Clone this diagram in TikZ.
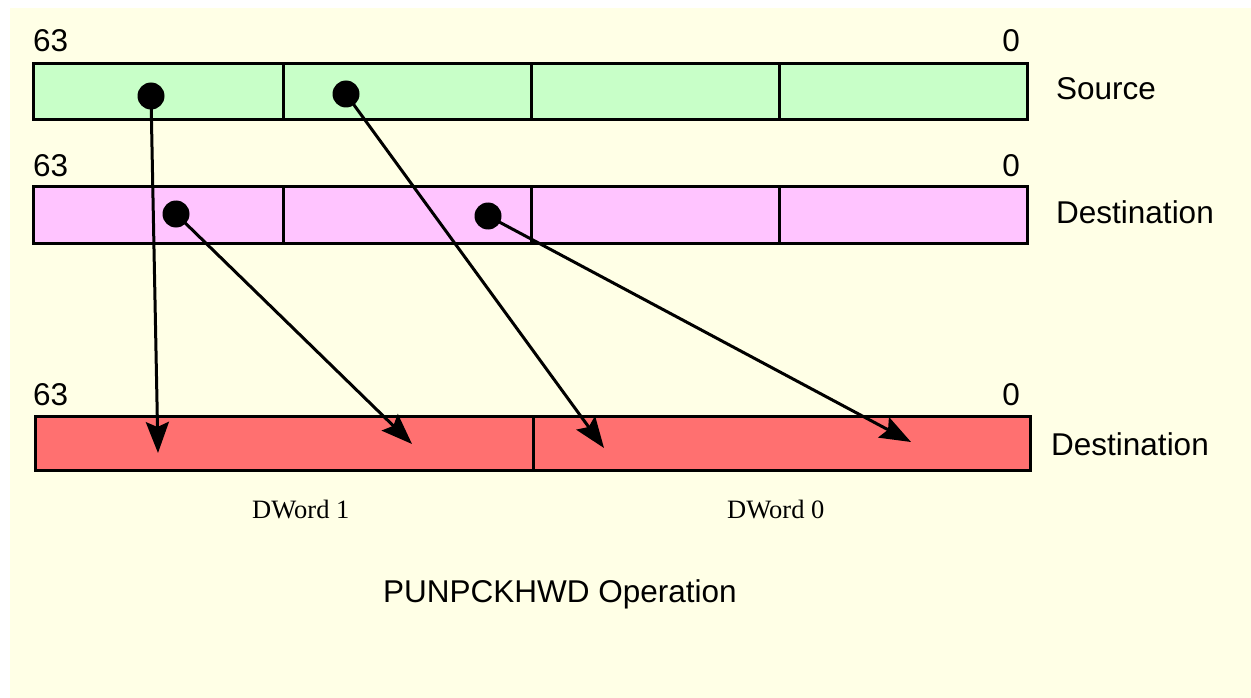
\documentclass[tikz,border=0pt]{standalone}
\usepackage{fontspec}
\setmainfont{Liberation Sans}
\newfontfamily\timesfont{Liberation Serif}
\usetikzlibrary{arrows.meta}
\definecolor{bgyellow}{RGB}{255,255,230}
\definecolor{srcgreen}{RGB}{200,255,200}
\definecolor{dstpink}{RGB}{255,196,255}
\definecolor{resred}{RGB}{255,112,112}
\tikzset{
  cell/.style={draw=black, line width=3pt, rectangle, inner sep=0pt, outer sep=0pt, minimum height=56pt, anchor=north west},
  dot/.style={circle, fill=black, draw=none, minimum size=27pt, inner sep=0pt},
  mover/.style={line width=3pt, -{Stealth[length=31pt,width=23pt,inset=5pt]}},
  lbl/.style={inner sep=0pt, font=\fontsize{31.5}{36}\selectfont},
  dlbl/.style={inner sep=0pt, font=\timesfont\fontsize{26.5}{30}\selectfont},
}
\begin{document}
\begin{tikzpicture}[x=1pt,y=-1pt]
\useasboundingbox (0,0) rectangle (1251,698);
\fill[bgyellow] (10,8) rectangle (1251,698);
% Source row
\node[cell, fill=srcgreen, minimum width=250pt] (s3) at (33,64) {};
\node[cell, fill=srcgreen, minimum width=248pt] (s2) at (283,64) {};
\node[cell, fill=srcgreen, minimum width=248pt] (s1) at (531,64) {};
\node[cell, fill=srcgreen, minimum width=248pt] (s0) at (779,64) {};
% Destination row
\node[cell, fill=dstpink, minimum width=250pt] (d3) at (33,187) {};
\node[cell, fill=dstpink, minimum width=248pt] (d2) at (283,187) {};
\node[cell, fill=dstpink, minimum width=248pt] (d1) at (531,187) {};
\node[cell, fill=dstpink, minimum width=248pt] (d0) at (779,187) {};
% Result row
\node[cell, fill=resred, minimum width=498pt, minimum height=54pt] (r1) at (35,416) {};
\node[cell, fill=resred, minimum width=497pt, minimum height=54pt] (r0) at (533,416) {};
% bit labels
\node[lbl, anchor=base west] (s63) at (33,52) {63};
\node[lbl, anchor=base east] (s0l) at (1020,52) {0};
\node[lbl, anchor=base west] (d63) at (33,177) {63};
\node[lbl, anchor=base east] (d0l) at (1020,177) {0};
\node[lbl, anchor=base west] (r63) at (33,405) {63};
\node[lbl, anchor=base east] (r0l) at (1020,405) {0};
% row names
\node[lbl, anchor=base west] (srcname) at (1056,100) {Source};
\node[lbl, anchor=base west] (dstname) at (1056,223) {Destination};
\node[lbl, anchor=base west] (resname) at (1051,455) {Destination};
% dword labels
\node[dlbl, anchor=base west] (dw1) at (252,518) {DWord 1};
\node[dlbl, anchor=base west] (dw0) at (727,518) {DWord 0};
\node[lbl, anchor=base west] (title) at (383,602) {PUNPCKHWD Operation};
% dots
\node[dot] (sa) at (151,96) {};
\node[dot] (sb) at (346,94) {};
\node[dot] (da) at (176,214) {};
\node[dot] (db) at (488,216) {};
% arrow tips
\coordinate (t1) at (158,453);
\coordinate (t2) at (412,444);
\coordinate (t3) at (604,448);
\coordinate (t4) at (911,442);
\draw[mover] (sa.center) -- (t1);
\draw[mover] (da.center) -- (t2);
\draw[mover] (sb.center) -- (t3);
\draw[mover] (db.center) -- (t4);
\end{tikzpicture}
\end{document}
